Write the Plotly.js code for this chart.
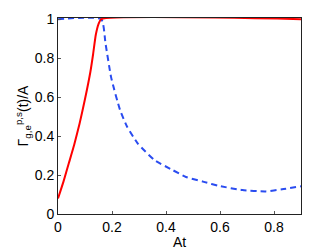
<!DOCTYPE html>
<html><head><meta charset="utf-8">
<script src="https://cdn.plot.ly/plotly-3.0.1.min.js"></script>
<style>html,body{margin:0;padding:0;background:#fff}#c{width:332px;height:250px}</style>
</head><body><div id="c"></div>
<script>
const redX = [0, 0.02, 0.04, 0.06, 0.08, 0.10, 0.12, 0.13, 0.14, 0.15, 0.16, 0.9];
const redY = [0.08, 0.165, 0.26, 0.355, 0.465, 0.59, 0.73, 0.82, 0.92, 0.975, 1.0, 1.0];
const blueX = [0, 0.16, 0.176, 0.197, 0.23, 0.256, 0.295, 0.357, 0.424, 0.474, 0.54, 0.597, 0.683, 0.769, 0.83, 0.9];
const blueY = [1.0, 1.0, 0.875, 0.70, 0.533, 0.448, 0.363, 0.277, 0.226, 0.19, 0.165, 0.144, 0.123, 0.116, 0.127, 0.142];
const xTicks = [0, 0.2, 0.4, 0.6, 0.8];
const yTicks = [0, 0.2, 0.4, 0.6, 0.8, 1];

const font = {family: 'Liberation Sans, Arial, sans-serif', size: 14, color: '#000'};
const traces = [
  {x: blueX, y: blueY, mode: 'lines', line: {color: '#2a4cf0', width: 2, dash: '6px,4px', shape: 'spline', smoothing: 0.5}},
  {x: redX, y: redY, mode: 'lines', line: {color: '#ff0000', width: 2, shape: 'spline', smoothing: 0.5}}
];
const ax = {showgrid: false, zeroline: false, ticks: 'inside', ticklen: 3, tickcolor: '#555',
  showline: true, linecolor: '#222', linewidth: 1, mirror: true, tickfont: font};
const layout = {
  width: 332, height: 250, showlegend: false,
  margin: {l: 58, r: 31, t: 18, b: 36},
  paper_bgcolor: '#fff', plot_bgcolor: '#fff', font: font,
  xaxis: Object.assign({}, ax, {range: [0, 0.9], tickvals: xTicks, ticktext: xTicks.map(String),
    title: {text: 'At', font: font, standoff: 0}}),
  yaxis: Object.assign({}, ax, {range: [0, 1.006], tickvals: yTicks, ticktext: yTicks.map(String),
    title: {text: 'Γ<sub>g,e</sub><sup>p,s</sup>(t)/A', font: font, standoff: 2}})
};
Plotly.newPlot('c', traces, layout, {displayModeBar: false, staticPlot: true});
</script></body></html>
